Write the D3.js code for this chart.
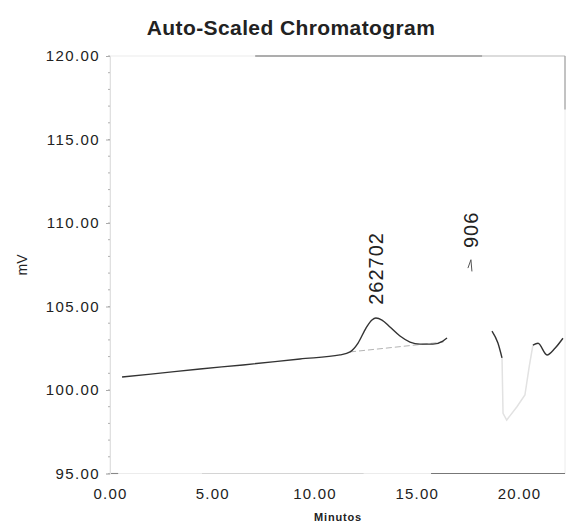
<!DOCTYPE html>
<html>
<head>
<meta charset="utf-8">
<script src="https://cdn.jsdelivr.net/npm/d3@7"></script>
<style>
    body { margin: 0; background: #fff; }
    svg text { font-family: "Liberation Sans", Arial, sans-serif; fill: #222; }
</style>
</head>
<body>
<svg id="chart" width="566" height="528"></svg>
<script>
// trace (minutes, mV); null = gap where the print faded out
var traceTime = [0.59, 2.0, 4.4, 6.5, 9.29, 11.25, 11.74, 12.13, 12.52, 12.81, 13.0, 13.3, 13.69, 14.18, 14.67, 15.16, 15.79, 16.28, 16.48,
    null, 18.68, 18.97, 19.17, null, 20.68, 20.93, 21.37, 21.76, 22.15];
var traceMv = [100.78, 100.95, 101.26, 101.5, 101.86, 102.1, 102.28, 102.81, 103.71, 104.19, 104.31, 104.19, 103.77, 103.23, 102.87, 102.75, 102.75, 102.93, 103.11,
    null, 103.53, 102.81, 101.92, null, 102.69, 102.8, 102.1, 102.5, 103.1];

// faint negative dip after the second peak
var dipTime = [19.17, 19.22, 19.4, 19.9, 20.29, 20.5, 20.68];
var dipMv = [101.92, 98.6, 98.2, 99.0, 99.7, 101.4, 102.69];

// integration baseline under the main peak
var baseTime = [11.74, 16.3];
var baseMv = [102.28, 102.87];

var peakTime = [13.0, 17.65];
var peakLabels = ["262702", "906"];
var peakLabelMv = [105.1, 108.5];

var yTicks = [95, 100, 105, 110, 115, 120];
var yMinor = d3.range(95, 121, 1);
var xTicks = [0, 5, 10, 15, 20];

var svg = d3.select('#chart');
var x = d3.scaleLinear().domain([0, 22.25]).range([110, 565]);
var y = d3.scaleLinear().domain([95, 120]).range([473.5, 56]);

function draw() {
    // faded plot frame
    svg.append("rect")
        .attr("x", x(0)).attr("y", y(120))
        .attr("width", x(22.25) - x(0)).attr("height", y(95) - y(120))
        .attr("fill", "none").attr("stroke", "#ececec");

    // the parts of the frame that survived the scan
    var frame = [[7.1, 120, 18.2, 120], [18.2, 120, 22.25, 120], [22.25, 120, 22.25, 116.8], [15.7, 95, 22.25, 95], [0, 95, 0.4, 95], [4.5, 95, 12.4, 95]];
    var frameColor = ["#666", "#c4c4c4", "#999", "#777", "#888", "#d4d4d4"];
    svg.selectAll(".frame")
        .data(frame)
        .enter().append("line")
        .attr("class", "frame")
        .attr("x1", function (d) { return x(d[0]); })
        .attr("y1", function (d) { return y(d[1]); })
        .attr("x2", function (d) { return x(d[2]); })
        .attr("y2", function (d) { return y(d[3]); })
        .attr("stroke", function (d, i) { return frameColor[i]; })
        .attr("stroke-width", 1.1);

    // y axis
    var yAxis = svg.append("g")
        .attr("transform", "translate(" + x(0) + ",0)")
        .call(d3.axisLeft(y).tickValues(yTicks).tickSize(4).tickPadding(6)
            .tickFormat(function (d) { return d.toFixed(2); }));
    yAxis.select(".domain").attr("stroke", "#e0e0e0");
    yAxis.selectAll(".tick line").attr("stroke", "#aaa");
    yAxis.selectAll("text")
        .style("font-size", "15px")
        .style("letter-spacing", "1.4px")
        .attr("fill", "#2a2a2a");

    svg.selectAll(".minor")
        .data(yMinor)
        .enter().append("line")
        .attr("class", "minor")
        .attr("x1", x(0) - 2).attr("x2", x(0))
        .attr("y1", function (d) { return y(d); })
        .attr("y2", function (d) { return y(d); })
        .attr("stroke", "#b0b0b0");

    // x axis
    var xAxis = svg.append("g")
        .attr("transform", "translate(0," + y(95) + ")")
        .call(d3.axisBottom(x).tickValues(xTicks).tickSize(0).tickPadding(15)
            .tickFormat(function (d) { return d.toFixed(2); }));
    xAxis.select(".domain").remove();
    xAxis.selectAll("text")
        .style("font-size", "15px")
        .style("letter-spacing", "1.2px")
        .attr("fill", "#2a2a2a");

    // titles
    svg.append("text")
        .attr("x", 291).attr("y", 35)
        .attr("text-anchor", "middle")
        .style("font-size", "21px")
        .style("font-weight", "bold")
        .style("letter-spacing", "0.4px")
        .text("Auto-Scaled Chromatogram");

    svg.append("text")
        .attr("x", 338).attr("y", 521)
        .attr("text-anchor", "middle")
        .style("font-size", "11px")
        .style("font-weight", "bold")
        .style("letter-spacing", "0.8px")
        .attr("fill", "#444")
        .text("Minutos");

    svg.append("text")
        .attr("transform", "translate(27,265) rotate(-90)")
        .attr("text-anchor", "middle")
        .style("font-size", "14px")
        .attr("fill", "#444")
        .text("mV");

    // integration baseline
    svg.append("path")
        .datum(d3.range(baseTime.length))
        .attr("fill", "none")
        .attr("stroke", "#b4b4b4")
        .attr("stroke-dasharray", "6,3")
        .attr("d", d3.line()
            .x(function (i) { return x(baseTime[i]); })
            .y(function (i) { return y(baseMv[i]); }));

    // faint dip
    svg.append("path")
        .datum(d3.range(dipTime.length))
        .attr("fill", "none")
        .attr("stroke", "#e2e2e2")
        .attr("stroke-width", 1.5)
        .attr("d", d3.line()
            .x(function (i) { return x(dipTime[i]); })
            .y(function (i) { return y(dipMv[i]); }));

    // trace
    svg.append("path")
        .datum(d3.range(traceTime.length))
        .attr("fill", "none")
        .attr("stroke", "#333")
        .attr("stroke-width", 1.4)
        .attr("d", d3.line()
            .defined(function (i) { return traceTime[i] !== null; })
            .curve(d3.curveMonotoneX)
            .x(function (i) { return x(traceTime[i]); })
            .y(function (i) { return y(traceMv[i]); }));

    // peak labels
    svg.selectAll(".peak")
        .data(peakLabels)
        .enter().append("text")
        .attr("class", "peak")
        .attr("transform", function (d, i) {
            return "translate(" + (x(peakTime[i]) + 7) + "," + y(peakLabelMv[i]) + ") rotate(-90)";
        })
        .style("font-size", "20px")
        .style("letter-spacing", "1px")
        .text(function (d) { return d; });

    // small marker under the 906 label
    var mx = x(17.65);
    svg.append("path")
        .attr("d", "M" + (mx - 3) + "," + y(107.3) + "L" + mx + "," + y(107.8) + "L" + (mx + 1) + "," + y(107.1))
        .attr("fill", "none")
        .attr("stroke", "#555");
}

draw();
</script>
</body>
</html>
